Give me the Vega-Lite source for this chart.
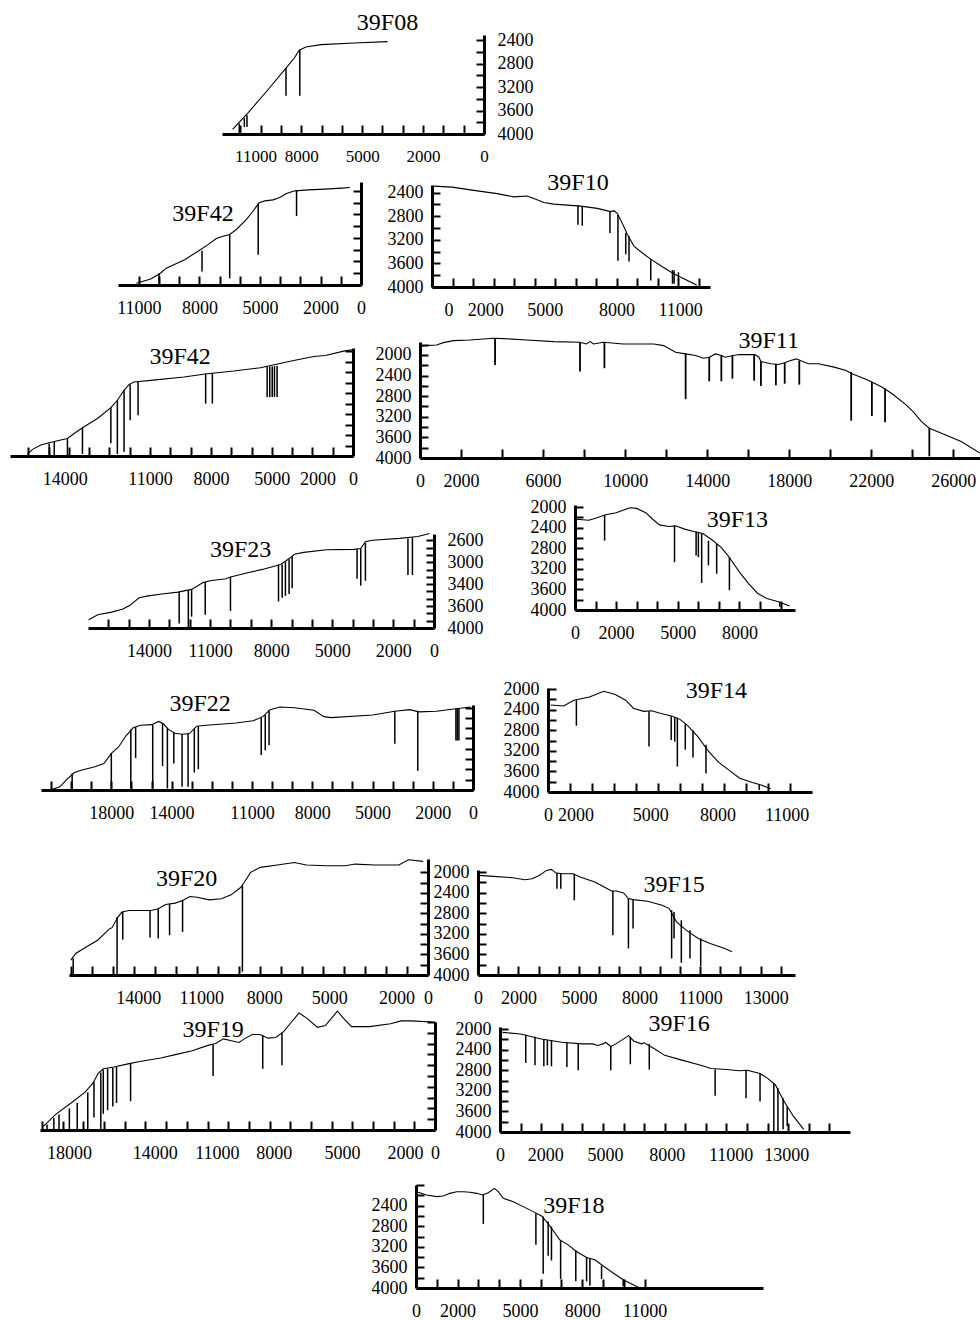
{
"$schema":"https://vega.github.io/schema/vega-lite/v6.json",
"padding":0,
"background":"white",
"spacing":0,
"config":{"view":{"stroke":null},"axis":{"grid":false,"domainWidth":3,"domainColor":"#000","tickColor":"#000","tickWidth":2,"labelFont":"Liberation Serif","labelFontSize":18,"labelColor":"#000","labelFlush":false,"labelOverlap":false,"labelBound":false},"axisX":{"tickSize":-9,"labelPadding":23},"axisY":{"tickSize":-8,"labelPadding":17},"axisRight":{"labelPadding":21}},
"datasets":{
"profile":[
{"p":"A","x":12380,"d":3920},{"p":"A","x":11640,"d":3646},{"p":"A","x":10700,"d":3270},{"p":"A","x":9750,"d":2874},{"p":"A","x":9340,"d":2703},{"p":"A","x":9100,"d":2571},{"p":"A","x":8770,"d":2514},{"p":"A","x":8030,"d":2474},{"p":"A","x":6390,"d":2446},{"p":"A","x":4750,"d":2423},
{"p":"B","x":11120,"d":3971},{"p":"B","x":10410,"d":3897},{"p":"B","x":9930,"d":3800},{"p":"B","x":9640,"d":3714},{"p":"B","x":8730,"d":3571},{"p":"B","x":8030,"d":3417},{"p":"B","x":7570,"d":3314},{"p":"B","x":7160,"d":3211},{"p":"B","x":6830,"d":3171},{"p":"B","x":6500,"d":3143},{"p":"B","x":6170,"d":3057},{"p":"B","x":5670,"d":2886},{"p":"B","x":5340,"d":2743},{"p":"B","x":5040,"d":2600},{"p":"B","x":4760,"d":2571},{"p":"B","x":4350,"d":2554},{"p":"B","x":4020,"d":2514},{"p":"B","x":3690,"d":2446},{"p":"B","x":3270,"d":2400},{"p":"B","x":2610,"d":2383},{"p":"B","x":1790,"d":2371},{"p":"B","x":960,"d":2354},{"p":"B","x":550,"d":2343},
{"p":"C","x":80,"d":2289},{"p":"C","x":980,"d":2306},{"p":"C","x":2040,"d":2361},{"p":"C","x":3180,"d":2417},{"p":"C","x":3990,"d":2472},{"p":"C","x":4640,"d":2456},{"p":"C","x":4970,"d":2500},{"p":"C","x":5460,"d":2567},{"p":"C","x":5940,"d":2594},{"p":"C","x":6600,"d":2611},{"p":"C","x":7250,"d":2628},{"p":"C","x":8060,"d":2667},{"p":"C","x":8710,"d":2722},{"p":"C","x":8880,"d":2706},{"p":"C","x":9040,"d":2750},{"p":"C","x":9280,"d":2917},{"p":"C","x":9530,"d":3111},{"p":"C","x":9850,"d":3306},{"p":"C","x":10340,"d":3444},{"p":"C","x":10670,"d":3528},{"p":"C","x":11160,"d":3639},{"p":"C","x":11810,"d":3778},{"p":"C","x":12460,"d":3889},{"p":"C","x":12920,"d":3972},
{"p":"D","x":16030,"d":3962},{"p":"D","x":15790,"d":3873},{"p":"D","x":15380,"d":3791},{"p":"D","x":14970,"d":3747},{"p":"D","x":14560,"d":3709},{"p":"D","x":14070,"d":3665},{"p":"D","x":13740,"d":3570},{"p":"D","x":13250,"d":3443},{"p":"D","x":12590,"d":3285},{"p":"D","x":11930,"d":3076},{"p":"D","x":11610,"d":2937},{"p":"D","x":11280,"d":2747},{"p":"D","x":11030,"d":2633},{"p":"D","x":10790,"d":2589},{"p":"D","x":9970,"d":2557},{"p":"D","x":8330,"d":2494},{"p":"D","x":7180,"d":2430},{"p":"D","x":5870,"d":2380},{"p":"D","x":4560,"d":2316},{"p":"D","x":3660,"d":2240},{"p":"D","x":2920,"d":2177},{"p":"D","x":1930,"d":2101},{"p":"D","x":1360,"d":2082},{"p":"D","x":460,"d":2000},{"p":"D","x":50,"d":1974},
{"p":"E","x":30,"d":1826},{"p":"E","x":810,"d":1807},{"p":"E","x":1140,"d":1762},{"p":"E","x":1630,"d":1723},{"p":"E","x":2440,"d":1710},{"p":"E","x":3580,"d":1678},{"p":"E","x":4070,"d":1684},{"p":"E","x":5200,"d":1710},{"p":"E","x":6500,"d":1742},{"p":"E","x":7800,"d":1755},{"p":"E","x":8100,"d":1788},{"p":"E","x":8300,"d":1742},{"p":"E","x":8450,"d":1788},{"p":"E","x":8940,"d":1755},{"p":"E","x":9900,"d":1788},{"p":"E","x":11400,"d":1788},{"p":"E","x":11880,"d":1820},{"p":"E","x":12460,"d":1949},{"p":"E","x":12950,"d":1981},{"p":"E","x":13430,"d":2013},{"p":"E","x":13820,"d":2064},{"p":"E","x":14100,"d":2045},{"p":"E","x":14400,"d":1981},{"p":"E","x":14690,"d":2013},{"p":"E","x":14880,"d":2045},{"p":"E","x":15270,"d":2013},{"p":"E","x":15560,"d":1994},{"p":"E","x":16330,"d":1994},{"p":"E","x":16520,"d":2045},{"p":"E","x":16620,"d":2128},{"p":"E","x":17100,"d":2173},{"p":"E","x":17490,"d":2186},{"p":"E","x":17780,"d":2154},{"p":"E","x":18070,"d":2109},{"p":"E","x":18360,"d":2077},{"p":"E","x":18650,"d":2128},{"p":"E","x":18940,"d":2173},{"p":"E","x":19420,"d":2173},{"p":"E","x":20190,"d":2237},{"p":"E","x":20770,"d":2301},{"p":"E","x":21060,"d":2365},{"p":"E","x":21740,"d":2474},{"p":"E","x":22030,"d":2526},{"p":"E","x":22510,"d":2622},{"p":"E","x":23000,"d":2750},{"p":"E","x":23670,"d":2960},{"p":"E","x":24060,"d":3110},{"p":"E","x":24440,"d":3290},{"p":"E","x":24830,"d":3423},{"p":"E","x":25600,"d":3551},{"p":"E","x":26380,"d":3679},{"p":"E","x":27300,"d":3904},
{"p":"F","x":16970,"d":3867},{"p":"F","x":16520,"d":3789},{"p":"F","x":15840,"d":3747},{"p":"F","x":15280,"d":3698},{"p":"F","x":14940,"d":3638},{"p":"F","x":14490,"d":3517},{"p":"F","x":14040,"d":3487},{"p":"F","x":13370,"d":3457},{"p":"F","x":12580,"d":3427},{"p":"F","x":11910,"d":3384},{"p":"F","x":11350,"d":3276},{"p":"F","x":11010,"d":3246},{"p":"F","x":10220,"d":3215},{"p":"F","x":10000,"d":3185},{"p":"F","x":9100,"d":3113},{"p":"F","x":8430,"d":3065},{"p":"F","x":7530,"d":2986},{"p":"F","x":7080,"d":2884},{"p":"F","x":6850,"d":2823},{"p":"F","x":6400,"d":2793},{"p":"F","x":5280,"d":2751},{"p":"F","x":3930,"d":2745},{"p":"F","x":3600,"d":2733},{"p":"F","x":3370,"d":2624},{"p":"F","x":3030,"d":2600},{"p":"F","x":1690,"d":2570},{"p":"F","x":790,"d":2540},{"p":"F","x":220,"d":2491},
{"p":"G","x":40,"d":2237},{"p":"G","x":670,"d":2257},{"p":"G","x":1000,"d":2218},{"p":"G","x":1440,"d":2154},{"p":"G","x":2000,"d":2109},{"p":"G","x":2670,"d":2013},{"p":"G","x":3000,"d":2026},{"p":"G","x":3440,"d":2109},{"p":"G","x":3780,"d":2237},{"p":"G","x":4110,"d":2346},{"p":"G","x":4560,"d":2378},{"p":"G","x":4890,"d":2365},{"p":"G","x":5330,"d":2429},{"p":"G","x":5780,"d":2474},{"p":"G","x":6220,"d":2513},{"p":"G","x":6670,"d":2641},{"p":"G","x":7110,"d":2782},{"p":"G","x":7440,"d":2942},{"p":"G","x":8000,"d":3263},{"p":"G","x":8440,"d":3487},{"p":"G","x":8890,"d":3679},{"p":"G","x":9330,"d":3776},{"p":"G","x":9890,"d":3840},{"p":"G","x":10440,"d":3923},
{"p":"H","x":21050,"d":4000},{"p":"H","x":20560,"d":3938},{"p":"H","x":20190,"d":3783},{"p":"H","x":19830,"d":3660},{"p":"H","x":19460,"d":3610},{"p":"H","x":18860,"d":3554},{"p":"H","x":18370,"d":3486},{"p":"H","x":18000,"d":3288},{"p":"H","x":17640,"d":3164},{"p":"H","x":17270,"d":2948},{"p":"H","x":16910,"d":2793},{"p":"H","x":16550,"d":2743},{"p":"H","x":15990,"d":2731},{"p":"H","x":15640,"d":2669},{"p":"H","x":15400,"d":2719},{"p":"H","x":15160,"d":2824},{"p":"H","x":14840,"d":2898},{"p":"H","x":14480,"d":2917},{"p":"H","x":14110,"d":2904},{"p":"H","x":13750,"d":2762},{"p":"H","x":13260,"d":2743},{"p":"H","x":11800,"d":2700},{"p":"H","x":10950,"d":2657},{"p":"H","x":10460,"d":2576},{"p":"H","x":10100,"d":2440},{"p":"H","x":9610,"d":2390},{"p":"H","x":8880,"d":2403},{"p":"H","x":7910,"d":2452},{"p":"H","x":7420,"d":2576},{"p":"H","x":7060,"d":2595},{"p":"H","x":4990,"d":2545},{"p":"H","x":3890,"d":2471},{"p":"H","x":3160,"d":2440},{"p":"H","x":2680,"d":2483},{"p":"H","x":1820,"d":2471},{"p":"H","x":850,"d":2422},{"p":"H","x":120,"d":2390},
{"p":"I","x":120,"d":2310},{"p":"I","x":710,"d":2329},{"p":"I","x":1180,"d":2217},{"p":"I","x":1880,"d":2155},{"p":"I","x":2540,"d":2044},{"p":"I","x":3060,"d":2106},{"p":"I","x":3530,"d":2217},{"p":"I","x":3880,"d":2372},{"p":"I","x":4350,"d":2434},{"p":"I","x":4710,"d":2422},{"p":"I","x":5060,"d":2465},{"p":"I","x":5650,"d":2527},{"p":"I","x":6000,"d":2589},{"p":"I","x":6350,"d":2712},{"p":"I","x":6820,"d":2929},{"p":"I","x":7290,"d":3208},{"p":"I","x":7760,"d":3424},{"p":"I","x":8240,"d":3579},{"p":"I","x":8710,"d":3734},{"p":"I","x":9290,"d":3814},{"p":"I","x":9650,"d":3858},{"p":"I","x":10120,"d":3938},
{"p":"J","x":17010,"d":3710},{"p":"J","x":16780,"d":3581},{"p":"J","x":16320,"d":3465},{"p":"J","x":15740,"d":3323},{"p":"J","x":15160,"d":3097},{"p":"J","x":15050,"d":3078},{"p":"J","x":14770,"d":2871},{"p":"J","x":14580,"d":2774},{"p":"J","x":14240,"d":2742},{"p":"J","x":13190,"d":2742},{"p":"J","x":12850,"d":2710},{"p":"J","x":12500,"d":2626},{"p":"J","x":12040,"d":2600},{"p":"J","x":11690,"d":2549},{"p":"J","x":11340,"d":2471},{"p":"J","x":11000,"d":2484},{"p":"J","x":10420,"d":2536},{"p":"J","x":9840,"d":2516},{"p":"J","x":9380,"d":2439},{"p":"J","x":8910,"d":2291},{"p":"J","x":8750,"d":2194},{"p":"J","x":8450,"d":2000},{"p":"J","x":7990,"d":1903},{"p":"J","x":7180,"d":1858},{"p":"J","x":6370,"d":1807},{"p":"J","x":5790,"d":1858},{"p":"J","x":4860,"d":1871},{"p":"J","x":3940,"d":1871},{"p":"J","x":3470,"d":1839},{"p":"J","x":2550,"d":1858},{"p":"J","x":1390,"d":1858},{"p":"J","x":930,"d":1755},{"p":"J","x":230,"d":1787},
{"p":"K","x":50,"d":2065},{"p":"K","x":760,"d":2084},{"p":"K","x":1720,"d":2110},{"p":"K","x":2310,"d":2149},{"p":"K","x":2670,"d":2129},{"p":"K","x":3030,"d":2065},{"p":"K","x":3390,"d":1968},{"p":"K","x":3630,"d":1949},{"p":"K","x":3870,"d":2020},{"p":"K","x":4220,"d":2033},{"p":"K","x":4700,"d":2033},{"p":"K","x":5060,"d":2097},{"p":"K","x":5780,"d":2194},{"p":"K","x":6250,"d":2291},{"p":"K","x":6610,"d":2368},{"p":"K","x":6850,"d":2368},{"p":"K","x":7210,"d":2407},{"p":"K","x":7450,"d":2516},{"p":"K","x":7680,"d":2536},{"p":"K","x":8400,"d":2568},{"p":"K","x":9120,"d":2645},{"p":"K","x":9470,"d":2710},{"p":"K","x":9830,"d":2968},{"p":"K","x":10310,"d":3129},{"p":"K","x":10910,"d":3290},{"p":"K","x":11500,"d":3387},{"p":"K","x":12220,"d":3484},{"p":"K","x":12580,"d":3549},
{"p":"L","x":18940,"d":3933},{"p":"L","x":18310,"d":3700},{"p":"L","x":17550,"d":3487},{"p":"L","x":16920,"d":3300},{"p":"L","x":16540,"d":3133},{"p":"L","x":16290,"d":2953},{"p":"L","x":16040,"d":2866},{"p":"L","x":15530,"d":2833},{"p":"L","x":14900,"d":2780},{"p":"L","x":14270,"d":2733},{"p":"L","x":13260,"d":2666},{"p":"L","x":12500,"d":2599},{"p":"L","x":11740,"d":2533},{"p":"L","x":10980,"d":2433},{"p":"L","x":10610,"d":2399},{"p":"L","x":10230,"d":2312},{"p":"L","x":9850,"d":2346},{"p":"L","x":9470,"d":2379},{"p":"L","x":9220,"d":2312},{"p":"L","x":8840,"d":2232},{"p":"L","x":8460,"d":2232},{"p":"L","x":8080,"d":2299},{"p":"L","x":7700,"d":2286},{"p":"L","x":7320,"d":2179},{"p":"L","x":6940,"d":2000},{"p":"L","x":6570,"d":1832},{"p":"L","x":6190,"d":1932},{"p":"L","x":5680,"d":2099},{"p":"L","x":5300,"d":2066},{"p":"L","x":4720,"d":1799},{"p":"L","x":4420,"d":1932},{"p":"L","x":4040,"d":2086},{"p":"L","x":3160,"d":2086},{"p":"L","x":2150,"d":2033},{"p":"L","x":1640,"d":1980},{"p":"L","x":1140,"d":1980},{"p":"L","x":130,"d":2000},
{"p":"M","x":120,"d":2064},{"p":"M","x":1000,"d":2096},{"p":"M","x":2000,"d":2192},{"p":"M","x":3000,"d":2256},{"p":"M","x":4000,"d":2288},{"p":"M","x":4500,"d":2288},{"p":"M","x":4750,"d":2319},{"p":"M","x":5000,"d":2288},{"p":"M","x":5130,"d":2256},{"p":"M","x":5380,"d":2339},{"p":"M","x":5630,"d":2288},{"p":"M","x":6250,"d":2128},{"p":"M","x":6500,"d":2236},{"p":"M","x":6880,"d":2288},{"p":"M","x":7000,"d":2268},{"p":"M","x":7500,"d":2383},{"p":"M","x":8000,"d":2511},{"p":"M","x":8750,"d":2594},{"p":"M","x":9750,"d":2703},{"p":"M","x":10250,"d":2767},{"p":"M","x":11000,"d":2786},{"p":"M","x":11630,"d":2811},{"p":"M","x":12000,"d":2799},{"p":"M","x":12630,"d":2863},{"p":"M","x":13000,"d":2958},{"p":"M","x":13380,"d":3086},{"p":"M","x":13750,"d":3374},{"p":"M","x":14250,"d":3693},{"p":"M","x":14750,"d":3949},
{"p":"N","x":30,"d":2130},{"p":"N","x":510,"d":2194},{"p":"N","x":990,"d":2226},{"p":"N","x":1310,"d":2213},{"p":"N","x":1630,"d":2162},{"p":"N","x":1960,"d":2130},{"p":"N","x":2280,"d":2130},{"p":"N","x":2600,"d":2142},{"p":"N","x":2920,"d":2162},{"p":"N","x":3210,"d":2194},{"p":"N","x":3480,"d":2149},{"p":"N","x":3770,"d":2065},{"p":"N","x":3960,"d":2130},{"p":"N","x":4200,"d":2258},{"p":"N","x":4680,"d":2323},{"p":"N","x":5160,"d":2420},{"p":"N","x":5640,"d":2517},{"p":"N","x":6040,"d":2600},{"p":"N","x":6280,"d":2710},{"p":"N","x":6520,"d":2839},{"p":"N","x":6920,"d":3065},{"p":"N","x":7320,"d":3162},{"p":"N","x":7720,"d":3291},{"p":"N","x":8210,"d":3407},{"p":"N","x":8610,"d":3452},{"p":"N","x":8930,"d":3549},{"p":"N","x":9490,"d":3710},{"p":"N","x":9970,"d":3839},{"p":"N","x":10450,"d":3936},{"p":"N","x":10770,"d":4000}
],
"samples":[
{"p":"A","x":12050,"d":3820,"b":3990},{"p":"A","x":11800,"d":3730,"b":3880},{"p":"A","x":11670,"d":3680,"b":3880},{"p":"A","x":9750,"d":2874,"b":3349},{"p":"A","x":9070,"d":2560,"b":3349},
{"p":"B","x":10000,"d":3800,"b":3971},{"p":"B","x":7870,"d":3417,"b":3771},{"p":"B","x":6500,"d":3143,"b":3886},{"p":"B","x":5090,"d":2611,"b":3486},{"p":"B","x":3190,"d":2400,"b":2829},
{"p":"C","x":7120,"d":2611,"b":2944},{"p":"C","x":7330,"d":2628,"b":2961},{"p":"C","x":8680,"d":2722,"b":3083},{"p":"C","x":9070,"d":2778,"b":3556},{"p":"C","x":9450,"d":3083,"b":3444},{"p":"C","x":9610,"d":3139,"b":3567},{"p":"C","x":10670,"d":3528,"b":3889},{"p":"C","x":11730,"d":3711,"b":3944},{"p":"C","x":11810,"d":3722,"b":3944},{"p":"C","x":12020,"d":3750,"b":3889},
{"p":"D","x":14970,"d":3760,"b":3981},{"p":"D","x":14720,"d":3728,"b":3981},{"p":"D","x":14070,"d":3665,"b":3981},{"p":"D","x":13330,"d":3456,"b":3962},{"p":"D","x":11930,"d":3076,"b":3759},{"p":"D","x":11610,"d":2937,"b":3962},{"p":"D","x":11280,"d":2747,"b":3918},{"p":"D","x":10980,"d":2633,"b":3316},{"p":"D","x":10590,"d":2589,"b":3221},{"p":"D","x":7260,"d":2430,"b":3000},{"p":"D","x":6930,"d":2418,"b":3000},{"p":"D","x":4230,"d":2291,"b":2873},{"p":"D","x":4100,"d":2291,"b":2873},{"p":"D","x":3980,"d":2291,"b":2873},{"p":"D","x":3870,"d":2285,"b":2873},{"p":"D","x":3740,"d":2280,"b":2873},
{"p":"E","x":3660,"d":1684,"b":2194},{"p":"E","x":7800,"d":1762,"b":2323},{"p":"E","x":8990,"d":1755,"b":2258},{"p":"E","x":12950,"d":1981,"b":2859},{"p":"E","x":14100,"d":2045,"b":2513},{"p":"E","x":14690,"d":2013,"b":2513},{"p":"E","x":15230,"d":2013,"b":2462},{"p":"E","x":16290,"d":1994,"b":2500},{"p":"E","x":16620,"d":2128,"b":2603},{"p":"E","x":17350,"d":2173,"b":2590},{"p":"E","x":17780,"d":2154,"b":2558},{"p":"E","x":18490,"d":2109,"b":2577},{"p":"E","x":21020,"d":2333,"b":3276},{"p":"E","x":22030,"d":2526,"b":3186},{"p":"E","x":22670,"d":2654,"b":3308},{"p":"E","x":24830,"d":3423,"b":3968},
{"p":"F","x":12520,"d":3427,"b":3928},{"p":"F","x":12070,"d":3397,"b":4000},{"p":"F","x":11910,"d":3384,"b":3819},{"p":"F","x":11240,"d":3264,"b":3789},{"p":"F","x":10000,"d":3185,"b":3728},{"p":"F","x":7640,"d":2986,"b":3578},{"p":"F","x":7460,"d":2986,"b":3517},{"p":"F","x":7300,"d":2944,"b":3487},{"p":"F","x":7120,"d":2902,"b":3457},{"p":"F","x":6970,"d":2853,"b":3366},{"p":"F","x":3780,"d":2745,"b":3215},{"p":"F","x":3600,"d":2733,"b":3324},{"p":"F","x":3370,"d":2642,"b":3246},{"p":"F","x":1280,"d":2570,"b":3155},{"p":"F","x":1060,"d":2557,"b":3155},
{"p":"G","x":1440,"d":2154,"b":2654},{"p":"G","x":4840,"d":2365,"b":3071},{"p":"G","x":5890,"d":2481,"b":2942},{"p":"G","x":6000,"d":2494,"b":2974},{"p":"G","x":6160,"d":2513,"b":3474},{"p":"G","x":6490,"d":2654,"b":3135},{"p":"G","x":6890,"d":2718,"b":3295},{"p":"G","x":7510,"d":2974,"b":3615},{"p":"G","x":9960,"d":3840,"b":3936},
{"p":"H","x":19950,"d":3678,"b":4000},{"p":"H","x":18000,"d":3288,"b":4000},{"p":"H","x":17030,"d":2824,"b":3969},{"p":"H","x":16790,"d":2781,"b":3381},{"p":"H","x":15940,"d":2731,"b":3969},{"p":"H","x":15450,"d":2700,"b":3536},{"p":"H","x":15210,"d":2793,"b":3969},{"p":"H","x":14890,"d":2886,"b":3486},{"p":"H","x":14480,"d":2917,"b":3938},{"p":"H","x":14180,"d":2904,"b":3938},{"p":"H","x":13870,"d":2793,"b":3660},{"p":"H","x":13670,"d":2762,"b":3598},{"p":"H","x":10540,"d":2595,"b":3319},{"p":"H","x":10340,"d":2545,"b":3226},{"p":"H","x":10150,"d":2452,"b":3133},{"p":"H","x":3890,"d":2471,"b":3102},{"p":"H","x":2750,"d":2483,"b":3629},{"p":"H","x":850,"d":2422,"b":3040},{"p":"H","x":780,"d":2420,"b":3040},{"p":"H","x":700,"d":2415,"b":3040},
{"p":"I","x":1290,"d":2217,"b":2712},{"p":"I","x":4590,"d":2434,"b":3115},{"p":"I","x":5600,"d":2527,"b":2991},{"p":"I","x":5760,"d":2545,"b":3022},{"p":"I","x":5880,"d":2558,"b":3505},{"p":"I","x":6240,"d":2682,"b":3177},{"p":"I","x":6590,"d":2805,"b":3331},{"p":"I","x":7180,"d":3084,"b":3641},{"p":"I","x":9600,"d":3858,"b":3963},
{"p":"J","x":16900,"d":3678,"b":4000},{"p":"J","x":14810,"d":2871,"b":4000},{"p":"J","x":14540,"d":2774,"b":3310},{"p":"J","x":13240,"d":2742,"b":3271},{"p":"J","x":12850,"d":2710,"b":3290},{"p":"J","x":12310,"d":2613,"b":3226},{"p":"J","x":11690,"d":2549,"b":3161},{"p":"J","x":8840,"d":2258,"b":3936},
{"p":"K","x":3910,"d":2020,"b":2323},{"p":"K","x":4100,"d":2033,"b":2323},{"p":"K","x":4770,"d":2033,"b":2549},{"p":"K","x":6680,"d":2368,"b":3226},{"p":"K","x":7450,"d":2516,"b":3484},{"p":"K","x":7680,"d":2536,"b":3097},{"p":"K","x":9590,"d":2742,"b":3678},{"p":"K","x":9710,"d":2774,"b":3290},{"p":"K","x":10070,"d":2936,"b":3762},{"p":"K","x":10500,"d":3129,"b":3678},{"p":"K","x":11030,"d":3290,"b":3826},
{"p":"L","x":18760,"d":3900,"b":4000},{"p":"L","x":18430,"d":3780,"b":4000},{"p":"L","x":18180,"d":3713,"b":4000},{"p":"L","x":17680,"d":3600,"b":4000},{"p":"L","x":17300,"d":3500,"b":4000},{"p":"L","x":16790,"d":3300,"b":4000},{"p":"L","x":16490,"d":3100,"b":3767},{"p":"L","x":16160,"d":2933,"b":4000},{"p":"L","x":16040,"d":2886,"b":3700},{"p":"L","x":15830,"d":2866,"b":3633},{"p":"L","x":15580,"d":2846,"b":3567},{"p":"L","x":15400,"d":2833,"b":3500},{"p":"L","x":14720,"d":2766,"b":3467},{"p":"L","x":10730,"d":2419,"b":3000},{"p":"L","x":8330,"d":2246,"b":2867},{"p":"L","x":7400,"d":2199,"b":2800},
{"p":"M","x":1250,"d":2109,"b":2658},{"p":"M","x":1700,"d":2147,"b":2703},{"p":"M","x":2130,"d":2192,"b":2722},{"p":"M","x":2300,"d":2211,"b":2703},{"p":"M","x":2500,"d":2224,"b":2722},{"p":"M","x":3250,"d":2268,"b":2735},{"p":"M","x":3800,"d":2288,"b":2799},{"p":"M","x":5380,"d":2339,"b":2799},{"p":"M","x":6330,"d":2160,"b":2684},{"p":"M","x":7250,"d":2288,"b":2786},{"p":"M","x":10450,"d":2786,"b":3297},{"p":"M","x":11950,"d":2799,"b":3342},{"p":"M","x":12630,"d":2863,"b":3406},{"p":"M","x":13300,"d":3054,"b":4000},{"p":"M","x":13500,"d":3150,"b":4000},{"p":"M","x":13750,"d":3342,"b":3949},{"p":"M","x":13950,"d":3502,"b":3885},
{"p":"N","x":3240,"d":2194,"b":2755},{"p":"N","x":5770,"d":2549,"b":3162},{"p":"N","x":6120,"d":2613,"b":3723},{"p":"N","x":6360,"d":2710,"b":3374},{"p":"N","x":6520,"d":2807,"b":3465},{"p":"N","x":6960,"d":3065,"b":3826},{"p":"N","x":7690,"d":3271,"b":3871},{"p":"N","x":8210,"d":3400,"b":3871},{"p":"N","x":8370,"d":3420,"b":3955},{"p":"N","x":8930,"d":3568,"b":3826},{"p":"N","x":9970,"d":3826,"b":3968}
],
"names":[
{"p":"A","x":4750,"d":2110,"n":"39F08"},{"p":"B","x":7820,"d":2791,"n":"39F42"},{"p":"C","x":7120,"d":2240,"n":"39F10"},{"p":"D","x":8520,"d":2114,"n":"39F42"},{"p":"E","x":17000,"d":1740,"n":"39F11"},{"p":"F","x":9500,"d":2763,"n":"39F23"},{"p":"G","x":7900,"d":2256,"n":"39F13"},{"p":"H","x":13580,"d":2325,"n":"39F22"},{"p":"I","x":7650,"d":2040,"n":"39F14"},{"p":"J","x":11500,"d":2129,"n":"39F20"},{"p":"K","x":9710,"d":2258,"n":"39F15"},{"p":"L","x":10730,"d":2152,"n":"39F19"},{"p":"M","x":8700,"d":1904,"n":"39F16"},{"p":"N","x":7600,"d":2407,"n":"39F18"}
]
},
"vconcat":[
{"spacing":0,"bounds":"flush","hconcat":[
{"width":222,"height":167,"data":{"values":[]},"mark":"point"},
{"width":262,"height":134,
"encoding":{"x":{"field":"x","type":"quantitative","scale":{"domain":[0,12900],"reverse":true,"nice":false,"zero":false},"axis":{"title":null,"labelFontSize":17,"values":[0,1000,2000,3000,4000,5000,6000,7000,8000,9000,10000,11000,11250,12000],"labelExpr":"indexof([0,3000,6000,9000,11250],datum.value)<0?'':['0','2000','5000','8000','11000'][indexof([0,3000,6000,9000,11250],datum.value)]","tickOpacity":{"condition":{"test":"indexof([0,11250],datum.value)>=0","value":0},"value":1}}},
"y":{"field":"d","type":"quantitative","scale":{"domain":[2310,4000],"range":[35,134],"nice":false,"zero":false},"axis":{"title":null,"orient":"right","values":[2400,2600,2800,3000,3200,3400,3600,3800,4000],"labelExpr":"indexof([2400,2800,3200,3600,4000],datum.value)<0?'':''+datum.value"}}},
"layer":[
{"data":{"name":"profile"},"transform":[{"filter":"datum.p=='A'"}],"mark":{"type":"line","color":"#000","strokeWidth":1.1}},
{"data":{"name":"samples"},"transform":[{"filter":"datum.p=='A'"}],"mark":{"type":"rule","color":"#000","strokeWidth":1.5},"encoding":{"y2":{"field":"b"}}},
{"data":{"name":"names"},"transform":[{"filter":"datum.p=='A'"}],"mark":{"type":"text","font":"Liberation Serif","fontSize":24,"color":"#000"},"encoding":{"text":{"field":"n"}}}
]}
]},
{"spacing":0,"bounds":"flush","hconcat":[
{"width":118,"height":153,"data":{"values":[]},"mark":"point"},
{"width":243,"height":118,
"encoding":{"x":{"field":"x","type":"quantitative","scale":{"domain":[0,12030],"reverse":true,"nice":false,"zero":false},"axis":{"title":null,"values":[0,1000,2000,3000,4000,5000,6000,7000,8000,9000,10000,11000],"labelExpr":"indexof([0,2000,5000,8000,11000],datum.value)<0?'':''+datum.value","tickOpacity":{"condition":{"test":"indexof([0],datum.value)>=0","value":0},"value":1}}},
"y":{"field":"d","type":"quantitative","scale":{"domain":[2250,4000],"range":[15,118],"nice":false,"zero":false},"axis":{"title":null,"orient":"right","values":[2400,2600,2800,3000,3200,3400,3600,3800,4000],"labels":false}}},
"layer":[
{"data":{"name":"profile"},"transform":[{"filter":"datum.p=='B'"}],"mark":{"type":"line","color":"#000","strokeWidth":1.1}},
{"data":{"name":"samples"},"transform":[{"filter":"datum.p=='B'"}],"mark":{"type":"rule","color":"#000","strokeWidth":1.5},"encoding":{"y2":{"field":"b"}}},
{"data":{"name":"names"},"transform":[{"filter":"datum.p=='B'"}],"mark":{"type":"text","font":"Liberation Serif","fontSize":24,"color":"#000"},"encoding":{"text":{"field":"n"}}}
]},
{"width":71,"height":153,"data":{"values":[]},"mark":"point"},
{"width":278,"height":120,
"encoding":{"x":{"field":"x","type":"quantitative","scale":{"domain":[0,13560],"nice":false,"zero":false},"axis":{"title":null,"values":[800,1000,2000,2600,3000,4000,5000,5500,6000,7000,8000,9000,10000,11000,12000,12100,13000],"labelExpr":"indexof([800,2600,5500,9000,12100],datum.value)<0?'':['0','2000','5000','8000','11000'][indexof([800,2600,5500,9000,12100],datum.value)]","tickOpacity":{"condition":{"test":"indexof([800,2600,5500,12100],datum.value)>=0","value":0},"value":1}}},
"y":{"field":"d","type":"quantitative","scale":{"domain":[2270,4000],"range":[18,120],"nice":false,"zero":false},"axis":{"title":null,"orient":"left","values":[2400,2600,2800,3000,3200,3400,3600,3800,4000],"labelExpr":"indexof([2400,2800,3200,3600,4000],datum.value)<0?'':''+datum.value"}}},
"layer":[
{"data":{"name":"profile"},"transform":[{"filter":"datum.p=='C'"}],"mark":{"type":"line","color":"#000","strokeWidth":1.1}},
{"data":{"name":"samples"},"transform":[{"filter":"datum.p=='C'"}],"mark":{"type":"rule","color":"#000","strokeWidth":1.5},"encoding":{"y2":{"field":"b"}}},
{"data":{"name":"names"},"transform":[{"filter":"datum.p=='C'"}],"mark":{"type":"text","font":"Liberation Serif","fontSize":24,"color":"#000"},"encoding":{"text":{"field":"n"}}}
]}
]},
{"spacing":0,"bounds":"flush","hconcat":[
{"width":10,"height":170,"data":{"values":[]},"mark":"point"},
{"width":343,"height":136,
"encoding":{"x":{"field":"x","type":"quantitative","scale":{"domain":[0,16900],"reverse":true,"nice":false,"zero":false},"axis":{"title":null,"values":[0,1000,1750,2000,3000,4000,5000,6000,7000,8000,9000,10000,11000,12000,13000,14000,14200,15000,16000],"labelExpr":"indexof([0,1750,4000,7000,10000,14200],datum.value)<0?'':['0','2000','5000','8000','11000','14000'][indexof([0,1750,4000,7000,10000,14200],datum.value)]","tickOpacity":{"condition":{"test":"indexof([0,1750,14200],datum.value)>=0","value":0},"value":1}}},
"y":{"field":"d","type":"quantitative","scale":{"domain":[1940,4000],"range":[28,136],"nice":false,"zero":false},"axis":{"title":null,"orient":"right","values":[2000,2200,2400,2600,2800,3000,3200,3400,3600,3800,4000],"labels":false}}},
"layer":[
{"data":{"name":"profile"},"transform":[{"filter":"datum.p=='D'"}],"mark":{"type":"line","color":"#000","strokeWidth":1.1}},
{"data":{"name":"samples"},"transform":[{"filter":"datum.p=='D'"}],"mark":{"type":"rule","color":"#000","strokeWidth":1.5},"encoding":{"y2":{"field":"b"}}},
{"data":{"name":"names"},"transform":[{"filter":"datum.p=='D'"}],"mark":{"type":"text","font":"Liberation Serif","fontSize":24,"color":"#000"},"encoding":{"text":{"field":"n"}}}
]},
{"width":67,"height":170,"data":{"values":[]},"mark":"point"},
{"width":560,"height":138,
"encoding":{"x":{"field":"x","type":"quantitative","scale":{"domain":[0,27300],"nice":false,"zero":false},"axis":{"title":null,"values":[0,2000,4000,6000,8000,10000,12000,14000,16000,18000,20000,22000,24000,26000],"labelExpr":"indexof([0,2000,6000,10000,14000,18000,22000,26000],datum.value)<0?'':''+datum.value","tickOpacity":{"condition":{"test":"indexof([0],datum.value)>=0","value":0},"value":1}}},
"y":{"field":"d","type":"quantitative","scale":{"domain":[1750,4000],"range":[22,138],"nice":false,"zero":false},"axis":{"title":null,"orient":"left","values":[1800,2000,2200,2400,2600,2800,3000,3200,3400,3600,3800,4000],"labelExpr":"indexof([2000,2400,2800,3200,3600,4000],datum.value)<0?'':''+datum.value"}}},
"layer":[
{"data":{"name":"profile"},"transform":[{"filter":"datum.p=='E'"}],"mark":{"type":"line","color":"#000","strokeWidth":1.1}},
{"data":{"name":"samples"},"transform":[{"filter":"datum.p=='E'"}],"mark":{"type":"rule","color":"#000","strokeWidth":1.8},"encoding":{"y2":{"field":"b"}}},
{"data":{"name":"names"},"transform":[{"filter":"datum.p=='E'"}],"mark":{"type":"text","font":"Liberation Serif","fontSize":24,"color":"#000"},"encoding":{"text":{"field":"n"}}}
]}
]},
{"spacing":0,"bounds":"flush","hconcat":[
{"width":88,"height":175,"data":{"values":[]},"mark":"point"},
{"width":346,"height":138,
"encoding":{"x":{"field":"x","type":"quantitative","scale":{"domain":[0,17000],"reverse":true,"nice":false,"zero":false},"axis":{"title":null,"values":[0,1000,2000,3000,4000,5000,6000,7000,8000,9000,10000,11000,12000,13000,14000,15000,16000],"labelExpr":"indexof([0,2000,5000,8000,11000,14000],datum.value)<0?'':''+datum.value","tickOpacity":{"condition":{"test":"indexof([0],datum.value)>=0","value":0},"value":1}}},
"y":{"field":"d","type":"quantitative","scale":{"domain":[2500,4000],"range":[44,138],"nice":false,"zero":false},"axis":{"title":null,"orient":"right","values":[2600,2717,2833,2950,3067,3183,3300,3417,3533,3650,3767,3883,4000],"labelExpr":"indexof([2600,2950,3300,3650,4000],datum.value)<0?'':['2600','3000','3400','3600','4000'][indexof([2600,2950,3300,3650,4000],datum.value)]"}}},
"layer":[
{"data":{"name":"profile"},"transform":[{"filter":"datum.p=='F'"}],"mark":{"type":"line","color":"#000","strokeWidth":1.1}},
{"data":{"name":"samples"},"transform":[{"filter":"datum.p=='F'"}],"mark":{"type":"rule","color":"#000","strokeWidth":1.5},"encoding":{"y2":{"field":"b"}}},
{"data":{"name":"names"},"transform":[{"filter":"datum.p=='F'"}],"mark":{"type":"text","font":"Liberation Serif","fontSize":24,"color":"#000"},"encoding":{"text":{"field":"n"}}}
]},
{"width":141,"height":175,"data":{"values":[]},"mark":"point"},
{"width":220,"height":120,
"encoding":{"x":{"field":"x","type":"quantitative","scale":{"domain":[0,10700],"nice":false,"zero":false},"axis":{"title":null,"values":[0,1000,2000,3000,4000,5000,6000,7000,8000,9000,10000],"labelExpr":"indexof([0,2000,5000,8000],datum.value)<0?'':''+datum.value","tickOpacity":{"condition":{"test":"indexof([0],datum.value)>=0","value":0},"value":1}}},
"y":{"field":"d","type":"quantitative","scale":{"domain":[1960,4000],"range":[15,120],"nice":false,"zero":false},"axis":{"title":null,"orient":"left","values":[2000,2200,2400,2600,2800,3000,3200,3400,3600,3800,4000],"labelExpr":"indexof([2000,2400,2800,3200,3600,4000],datum.value)<0?'':''+datum.value"}}},
"layer":[
{"data":{"name":"profile"},"transform":[{"filter":"datum.p=='G'"}],"mark":{"type":"line","color":"#000","strokeWidth":1.1}},
{"data":{"name":"samples"},"transform":[{"filter":"datum.p=='G'"}],"mark":{"type":"rule","color":"#000","strokeWidth":1.5},"encoding":{"y2":{"field":"b"}}},
{"data":{"name":"names"},"transform":[{"filter":"datum.p=='G'"}],"mark":{"type":"text","font":"Liberation Serif","fontSize":24,"color":"#000"},"encoding":{"text":{"field":"n"}}}
]}
]},
{"spacing":0,"bounds":"flush","hconcat":[
{"width":41,"height":175,"data":{"values":[]},"mark":"point"},
{"width":432,"height":125,
"encoding":{"x":{"field":"x","type":"quantitative","scale":{"domain":[0,21500],"reverse":true,"nice":false,"zero":false},"axis":{"title":null,"values":[0,1000,2000,3000,4000,5000,6000,7000,8000,9000,10000,11000,12000,13000,14000,15000,16000,17000,18000,19000,20000,21000],"labelExpr":"indexof([0,2000,5000,8000,11000,15000,18000],datum.value)<0?'':['0','2000','5000','8000','11000','14000','18000'][indexof([0,2000,5000,8000,11000,15000,18000],datum.value)]","tickOpacity":{"condition":{"test":"indexof([0],datum.value)>=0","value":0},"value":1}}},
"y":{"field":"d","type":"quantitative","scale":{"domain":[2350,4000],"range":[40,125],"nice":false,"zero":false},"axis":{"title":null,"orient":"right","values":[2400,2600,2800,3000,3200,3400,3600,3800,4000],"labels":false}}},
"layer":[
{"data":{"name":"profile"},"transform":[{"filter":"datum.p=='H'"}],"mark":{"type":"line","color":"#000","strokeWidth":1.1}},
{"data":{"name":"samples"},"transform":[{"filter":"datum.p=='H'"}],"mark":{"type":"rule","color":"#000","strokeWidth":1.5},"encoding":{"y2":{"field":"b"}}},
{"data":{"name":"names"},"transform":[{"filter":"datum.p=='H'"}],"mark":{"type":"text","font":"Liberation Serif","fontSize":24,"color":"#000"},"encoding":{"text":{"field":"n"}}}
]},
{"width":75,"height":175,"data":{"values":[]},"mark":"point"},
{"width":264,"height":127,
"encoding":{"x":{"field":"x","type":"quantitative","scale":{"domain":[0,12000],"nice":false,"zero":false},"axis":{"title":null,"values":[0,1000,1250,2000,3000,4000,4650,5000,6000,7000,7700,8000,9000,10000,10850,11000],"labelExpr":"indexof([0,1250,4650,7700,10850],datum.value)<0?'':['0','2000','5000','8000','11000'][indexof([0,1250,4650,7700,10850],datum.value)]","tickOpacity":{"condition":{"test":"indexof([0,1250,4650,7700,10850],datum.value)>=0","value":0},"value":1}}},
"y":{"field":"d","type":"quantitative","scale":{"domain":[1980,4000],"range":[23,127],"nice":false,"zero":false},"axis":{"title":null,"orient":"left","values":[2000,2200,2400,2600,2800,3000,3200,3400,3600,3800,4000],"labelExpr":"indexof([2000,2400,2800,3200,3600,4000],datum.value)<0?'':''+datum.value"}}},
"layer":[
{"data":{"name":"profile"},"transform":[{"filter":"datum.p=='I'"}],"mark":{"type":"line","color":"#000","strokeWidth":1.1}},
{"data":{"name":"samples"},"transform":[{"filter":"datum.p=='I'"}],"mark":{"type":"rule","color":"#000","strokeWidth":1.5},"encoding":{"y2":{"field":"b"}}},
{"data":{"name":"names"},"transform":[{"filter":"datum.p=='I'"}],"mark":{"type":"text","font":"Liberation Serif","fontSize":24,"color":"#000"},"encoding":{"text":{"field":"n"}}}
]}
]},
{"spacing":0,"bounds":"flush","hconcat":[
{"width":69,"height":168,"data":{"values":[]},"mark":"point"},
{"width":359,"height":135,
"encoding":{"x":{"field":"x","type":"quantitative","scale":{"domain":[0,17100],"reverse":true,"nice":false,"zero":false},"axis":{"title":null,"values":[0,1000,1500,2000,3000,4000,4700,5000,6000,7000,7800,8000,9000,10000,10800,11000,12000,13000,13800,14000,15000,16000,17000],"labelExpr":"indexof([0,1500,4700,7800,10800,13800],datum.value)<0?'':['0','2000','5000','8000','11000','14000'][indexof([0,1500,4700,7800,10800,13800],datum.value)]","tickOpacity":{"condition":{"test":"indexof([0,1500,4700,7800,10800,13800],datum.value)>=0","value":0},"value":1}}},
"y":{"field":"d","type":"quantitative","scale":{"domain":[1740,4000],"range":[19,135],"nice":false,"zero":false},"axis":{"title":null,"orient":"right","values":[2000,2200,2400,2600,2800,3000,3200,3400,3600,3800,4000],"labels":false}}},
"layer":[
{"data":{"name":"profile"},"transform":[{"filter":"datum.p=='J'"}],"mark":{"type":"line","color":"#000","strokeWidth":1.1}},
{"data":{"name":"samples"},"transform":[{"filter":"datum.p=='J'"}],"mark":{"type":"rule","color":"#000","strokeWidth":1.5},"encoding":{"y2":{"field":"b"}}},
{"data":{"name":"names"},"transform":[{"filter":"datum.p=='J'"}],"mark":{"type":"text","font":"Liberation Serif","fontSize":24,"color":"#000"},"encoding":{"text":{"field":"n"}}}
]},
{"width":50,"height":168,"data":{"values":[]},"mark":"point"},
{"width":317,"height":135,
"encoding":{"x":{"field":"x","type":"quantitative","scale":{"domain":[0,15700],"nice":false,"zero":false},"axis":{"title":null,"values":[0,1000,2000,3000,4000,5000,6000,7000,8000,9000,10000,11000,12000,13000,14000,14250,15000],"labelExpr":"indexof([0,2000,5000,8000,11000,14250],datum.value)<0?'':['0','2000','5000','8000','11000','13000'][indexof([0,2000,5000,8000,11000,14250],datum.value)]","tickOpacity":{"condition":{"test":"indexof([0,14250],datum.value)>=0","value":0},"value":1}}},
"y":{"field":"d","type":"quantitative","scale":{"domain":[1960,4000],"range":[30,135],"nice":false,"zero":false},"axis":{"title":null,"orient":"left","values":[2000,2200,2400,2600,2800,3000,3200,3400,3600,3800,4000],"labelExpr":"indexof([2000,2400,2800,3200,3600,4000],datum.value)<0?'':''+datum.value"}}},
"layer":[
{"data":{"name":"profile"},"transform":[{"filter":"datum.p=='K'"}],"mark":{"type":"line","color":"#000","strokeWidth":1.1}},
{"data":{"name":"samples"},"transform":[{"filter":"datum.p=='K'"}],"mark":{"type":"rule","color":"#000","strokeWidth":1.5},"encoding":{"y2":{"field":"b"}}},
{"data":{"name":"names"},"transform":[{"filter":"datum.p=='K'"}],"mark":{"type":"text","font":"Liberation Serif","fontSize":24,"color":"#000"},"encoding":{"text":{"field":"n"}}}
]}
]},
{"spacing":0,"bounds":"flush","hconcat":[
{"width":40,"height":157,"data":{"values":[]},"mark":"point"},
{"width":395,"height":122,
"encoding":{"x":{"field":"x","type":"quantitative","scale":{"domain":[0,19100],"reverse":true,"nice":false,"zero":false},"axis":{"title":null,"values":[0,1000,1450,2000,3000,4000,4500,5000,6000,7000,7800,8000,9000,10000,10550,11000,12000,13000,13550,14000,15000,16000,17000,17700,18000,19000],"labelExpr":"indexof([0,1450,4500,7800,10550,13550,17700],datum.value)<0?'':['0','2000','5000','8000','11000','14000','18000'][indexof([0,1450,4500,7800,10550,13550,17700],datum.value)]","tickOpacity":{"condition":{"test":"indexof([0,1450,4500,7800,10550,13550,17700],datum.value)>=0","value":0},"value":1}}},
"y":{"field":"d","type":"quantitative","scale":{"domain":[2000,4000],"range":[14,122],"nice":false,"zero":false},"axis":{"title":null,"orient":"right","values":[2000,2200,2400,2600,2800,3000,3200,3400,3600,3800,4000],"labels":false}}},
"layer":[
{"data":{"name":"profile"},"transform":[{"filter":"datum.p=='L'"}],"mark":{"type":"line","color":"#000","strokeWidth":1.1}},
{"data":{"name":"samples"},"transform":[{"filter":"datum.p=='L'"}],"mark":{"type":"rule","color":"#000","strokeWidth":1.5},"encoding":{"y2":{"field":"b"}}},
{"data":{"name":"names"},"transform":[{"filter":"datum.p=='L'"}],"mark":{"type":"text","font":"Liberation Serif","fontSize":24,"color":"#000"},"encoding":{"text":{"field":"n"}}}
]},
{"width":65,"height":157,"data":{"values":[]},"mark":"point"},
{"width":350,"height":124,
"encoding":{"x":{"field":"x","type":"quantitative","scale":{"domain":[0,17000],"nice":false,"zero":false},"axis":{"title":null,"values":[0,1000,2000,2200,3000,4000,5000,5100,6000,7000,8000,8100,9000,10000,11000,11200,12000,13000,13900,14000,15000,16000],"labelExpr":"indexof([0,2200,5100,8100,11200,13900],datum.value)<0?'':['0','2000','5000','8000','11000','13000'][indexof([0,2200,5100,8100,11200,13900],datum.value)]","tickOpacity":{"condition":{"test":"indexof([0,2200,5100,8100,11200,13900],datum.value)>=0","value":0},"value":1}}},
"y":{"field":"d","type":"quantitative","scale":{"domain":[1960,4000],"range":[19,124],"nice":false,"zero":false},"axis":{"title":null,"orient":"left","values":[2000,2200,2400,2600,2800,3000,3200,3400,3600,3800,4000],"labelExpr":"indexof([2000,2400,2800,3200,3600,4000],datum.value)<0?'':''+datum.value"}}},
"layer":[
{"data":{"name":"profile"},"transform":[{"filter":"datum.p=='M'"}],"mark":{"type":"line","color":"#000","strokeWidth":1.1}},
{"data":{"name":"samples"},"transform":[{"filter":"datum.p=='M'"}],"mark":{"type":"rule","color":"#000","strokeWidth":1.5},"encoding":{"y2":{"field":"b"}}},
{"data":{"name":"names"},"transform":[{"filter":"datum.p=='M'"}],"mark":{"type":"text","font":"Liberation Serif","fontSize":24,"color":"#000"},"encoding":{"text":{"field":"n"}}}
]}
]},
{"spacing":0,"bounds":"flush","hconcat":[
{"width":416,"height":155,"data":{"values":[]},"mark":"point"},
{"width":347,"height":123,
"encoding":{"x":{"field":"x","type":"quantitative","scale":{"domain":[0,16700],"nice":false,"zero":false},"axis":{"title":null,"values":[0,1000,2000,3000,4000,5000,6000,7000,8000,9000,10000,11000],"labelExpr":"indexof([0,2000,5000,8000,11000],datum.value)<0?'':''+datum.value","tickOpacity":{"condition":{"test":"indexof([0],datum.value)>=0","value":0},"value":1}}},
"y":{"field":"d","type":"quantitative","scale":{"domain":[2000,4000],"range":[20,123],"nice":false,"zero":false},"axis":{"title":null,"orient":"left","values":[2000,2200,2400,2600,2800,3000,3200,3400,3600,3800,4000],"labelExpr":"indexof([2400,2800,3200,3600,4000],datum.value)<0?'':''+datum.value"}}},
"layer":[
{"data":{"name":"profile"},"transform":[{"filter":"datum.p=='N'"}],"mark":{"type":"line","color":"#000","strokeWidth":1.1}},
{"data":{"name":"samples"},"transform":[{"filter":"datum.p=='N'"}],"mark":{"type":"rule","color":"#000","strokeWidth":1.5},"encoding":{"y2":{"field":"b"}}},
{"data":{"name":"names"},"transform":[{"filter":"datum.p=='N'"}],"mark":{"type":"text","font":"Liberation Serif","fontSize":24,"color":"#000"},"encoding":{"text":{"field":"n"}}}
]}
]}
]
}
